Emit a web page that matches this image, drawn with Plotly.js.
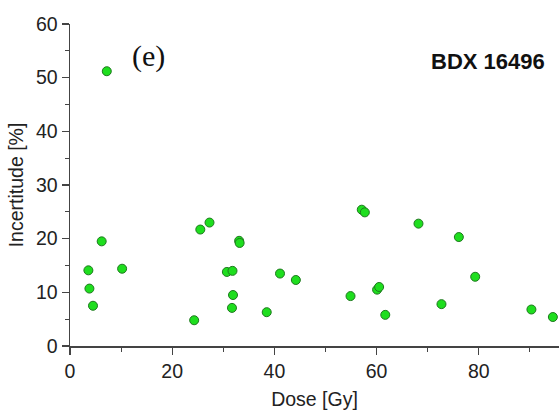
<!DOCTYPE html>
<html>
<head>
<meta charset="utf-8">
<script src="https://cdn.plot.ly/plotly-3.0.1.min.js"></script>
<style>html,body{margin:0;padding:0;background:#fff;}#chart{width:559px;height:410px;}</style>
</head>
<body>
<div id="chart"></div>
<script>
const dose = [7.2, 3.6, 3.8, 4.5, 6.2, 10.2, 24.3, 25.5, 27.3, 30.7, 31.8, 31.9, 31.7, 33.1, 33.2, 38.5, 41.1, 44.2, 54.9, 57.1, 57.7, 60.1, 60.5, 61.7, 68.2, 76.1, 72.7, 79.3, 90.3, 94.5];
const incertitude = [51.2, 14.1, 10.7, 7.5, 19.5, 14.4, 4.8, 21.7, 23.0, 13.8, 14.0, 9.5, 7.1, 19.6, 19.2, 6.3, 13.5, 12.3, 9.3, 25.4, 24.9, 10.5, 11.0, 5.8, 22.8, 20.3, 7.8, 12.9, 6.8, 5.4];
const sampleLabel = "BDX 16496";
const panelLabel = "(e)";

const trace = {
  x: dose, y: incertitude, type: 'scatter', mode: 'markers',
  marker: {size: 9, color: 'rgb(30,222,30)', line: {color: 'rgb(30,120,30)', width: 1}},
  hoverinfo: 'skip'
};
const axisFont = {family: 'Liberation Sans, Arial, sans-serif', size: 19.5, color: '#222'};
const layout = {
  width: 559, height: 410,
  margin: {l: 70, r: 0, t: 24, b: 64},
  paper_bgcolor: '#fff', plot_bgcolor: '#fff',
  showlegend: false,
  xaxis: {
    range: [0, 95.7], showgrid: false, zeroline: false,
    showline: true, linecolor: '#444', linewidth: 1.5,
    ticks: 'outside', ticklen: 7, tickwidth: 1.2, tickcolor: '#444',
    tick0: 0, dtick: 20,
    minor: {ticks: 'outside', ticklen: 4, tickwidth: 1.2, tickcolor: '#444', dtick: 10, showgrid: false},
    tickfont: axisFont,
    title: {text: 'Dose [Gy]', font: axisFont, standoff: 15}
  },
  yaxis: {
    range: [0, 60], showgrid: false, zeroline: false,
    showline: true, linecolor: '#444', linewidth: 1.5,
    ticks: 'outside', ticklen: 7, tickwidth: 1.2, tickcolor: '#444',
    tick0: 0, dtick: 10,
    minor: {ticks: 'outside', ticklen: 4, tickwidth: 1.2, tickcolor: '#444', dtick: 5, showgrid: false},
    tickfont: axisFont,
    title: {text: 'Incertitude [%]', font: axisFont, standoff: 7}
  },
  annotations: [
    {text: panelLabel, xref: 'paper', yref: 'paper', x: (148-70)/489, y: (346-56)/322, xanchor: 'center', yanchor: 'middle', showarrow: false,
     font: {family: 'Liberation Serif, DejaVu Serif, serif', size: 30, color: '#111'}},
    {text: '<b>' + sampleLabel + '</b>', xref: 'paper', yref: 'paper', x: (547-70)/489, y: (346-61)/322, xanchor: 'right', yanchor: 'middle', showarrow: false,
     font: {family: 'Liberation Sans, Arial, sans-serif', size: 22, color: '#111'}}
  ]
};
Plotly.newPlot('chart', [trace], layout, {displayModeBar: false, staticPlot: true});
</script>
</body>
</html>
